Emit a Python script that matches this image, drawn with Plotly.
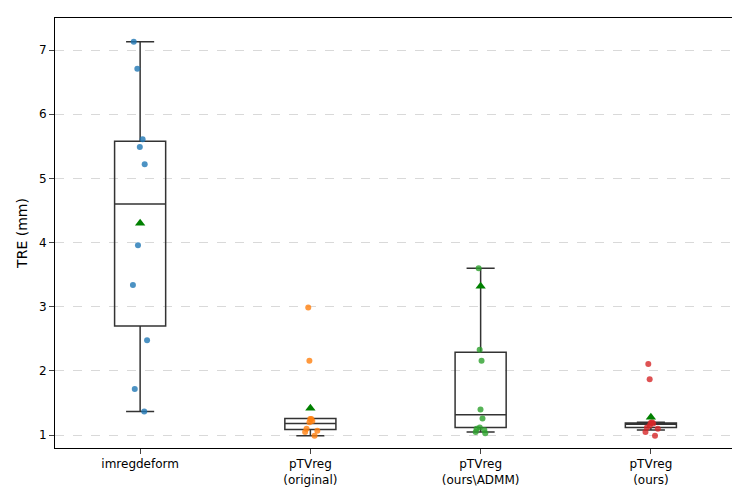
import plotly.graph_objects as go

categories = ["imregdeform", "pTVreg<br>(original)", "pTVreg<br>(ours\\ADMM)", "pTVreg<br>(ours)"]
colors = ["#1f77b4", "#ff7f0e", "#2ca02c", "#d62728"]

points = [
    [7.13, 6.71, 5.61, 5.49, 5.22, 3.96, 3.34, 2.48, 1.72, 1.37],
    [2.99, 2.16, 1.25, 1.25, 1.22, 1.20, 1.10, 1.07, 1.05, 0.99],
    [3.60, 2.33, 2.16, 1.40, 1.26, 1.12, 1.10, 1.08, 1.05, 1.03],
    [2.11, 1.87, 1.20, 1.18, 1.15, 1.12, 1.10, 1.05, 0.99, 1.19],
]
q1 = [2.70, 1.09, 1.12, 1.12]
median = [4.60, 1.18, 1.32, 1.17]
q3 = [5.58, 1.26, 2.29, 1.19]
lowerfence = [1.37, 0.99, 1.05, 1.08]
upperfence = [7.13, 1.25, 3.60, 1.20]
means = [4.30, 1.42, 3.32, 1.28]

fig = go.Figure()
for i, c in enumerate(categories):
    fig.add_trace(go.Box(
        x=[c], q1=[q1[i]], median=[median[i]], q3=[q3[i]],
        lowerfence=[lowerfence[i]], upperfence=[upperfence[i]],
        fillcolor="rgba(0,0,0,0)", line=dict(color="#333333", width=1.5),
        whiskerwidth=0.55, width=0.3, boxpoints=False, showlegend=False))
    fig.add_trace(go.Box(
        x=[c] * len(points[i]), y=points[i], boxpoints="all", jitter=0.35, pointpos=0,
        fillcolor="rgba(0,0,0,0)", line=dict(width=0, color="rgba(0,0,0,0)"),
        marker=dict(color=colors[i], size=6, opacity=0.8),
        width=0.3, showlegend=False))
fig.add_trace(go.Scatter(
    x=categories, y=means, mode="markers",
    marker=dict(symbol="triangle-up", color="green", size=9), showlegend=False))

fig.update_layout(
    width=740, height=490, boxmode="overlay",
    plot_bgcolor="white", paper_bgcolor="white",
    margin=dict(l=47, r=12, t=10, b=50),
    font=dict(family="DejaVu Sans", size=12, color="black"),
    xaxis=dict(showline=True, mirror=True, linecolor="black", ticks="outside", automargin=False,
               range=[-0.5, 3.5], tickfont=dict(size=12)),
    yaxis=dict(title=dict(text="TRE (mm)", standoff=8), range=[0.8, 7.5], tickvals=[1, 2, 3, 4, 5, 6, 7],
               showline=True, mirror=True, linecolor="black", ticks="outside", automargin=False,
               showgrid=True, gridcolor="#d9d9d9", griddash="dash", zeroline=False),
)
fig.write_html("out.html")
